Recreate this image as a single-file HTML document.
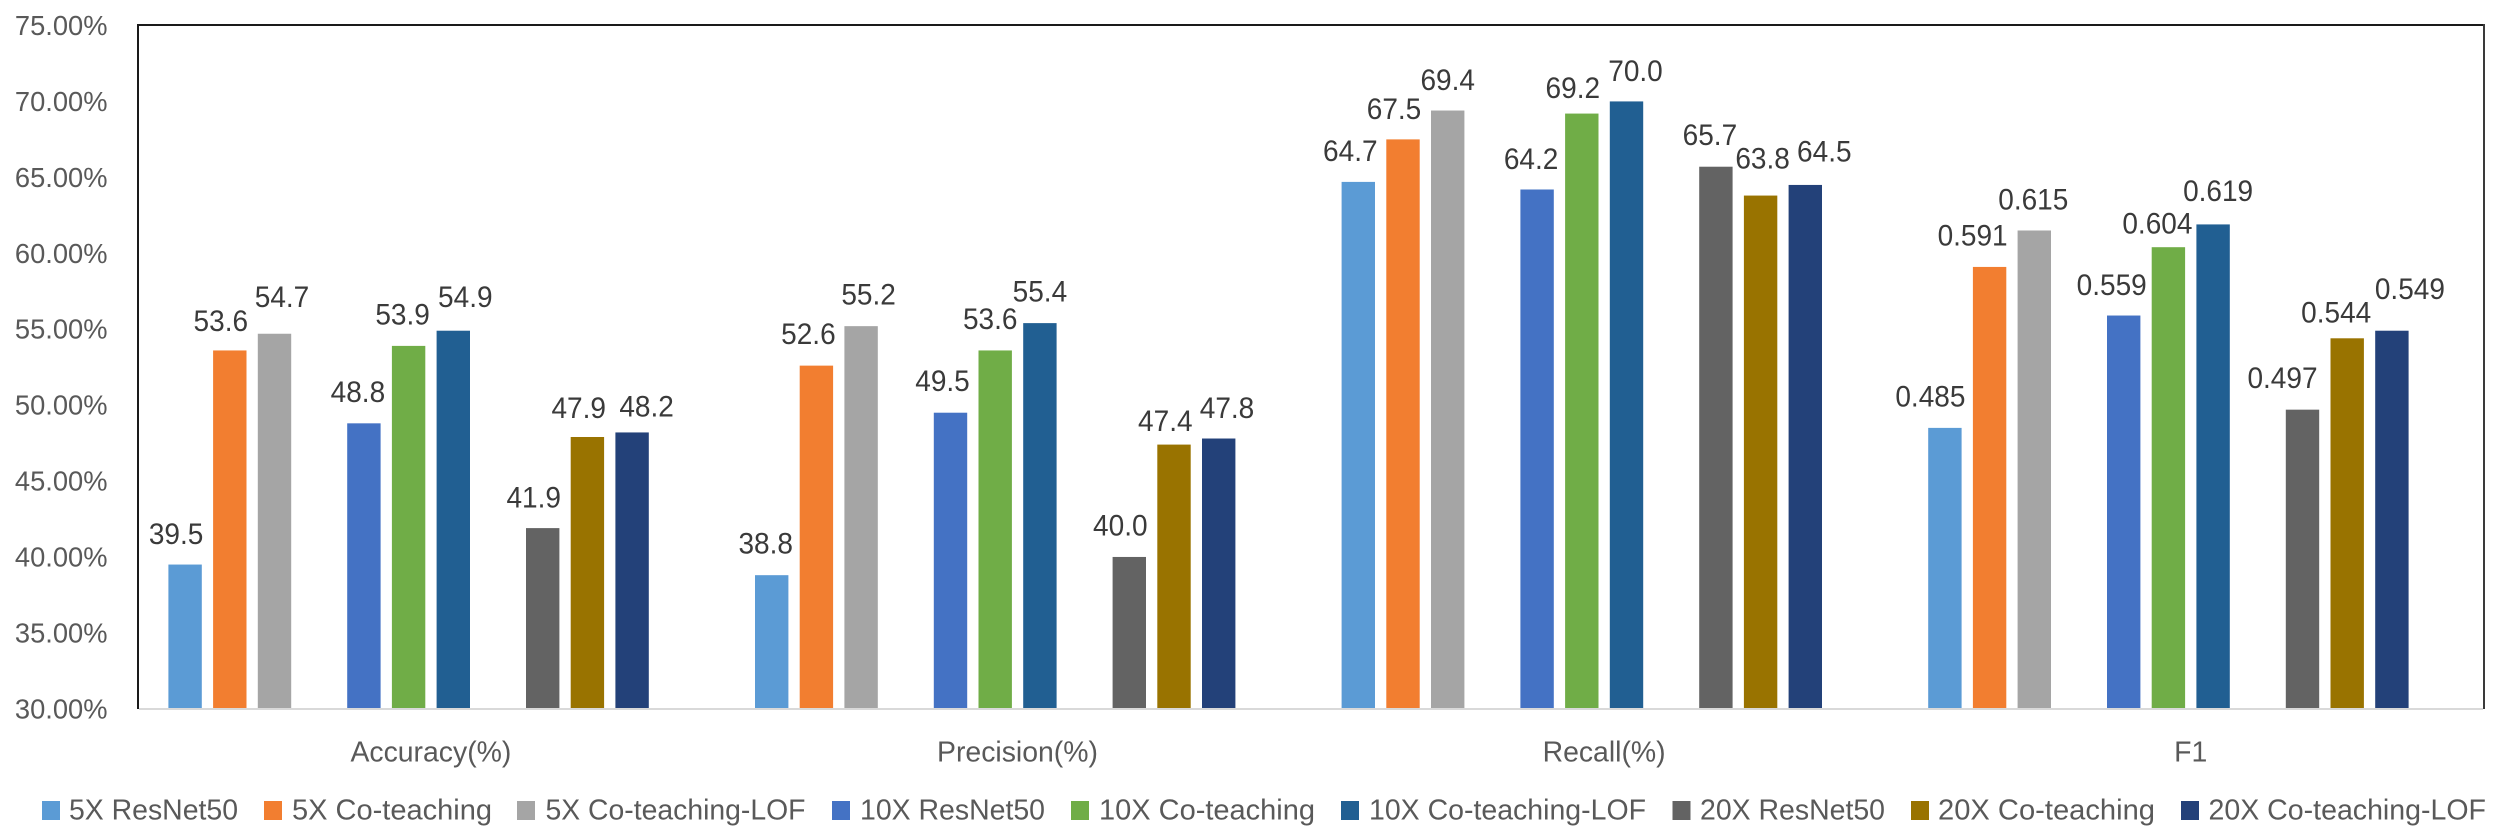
<!DOCTYPE html>
<html lang="en">
<head>
<meta charset="utf-8">
<title>Model metrics by magnification</title>
<style>
html,body{margin:0;padding:0;background:#fff;width:2500px;height:840px;overflow:hidden}
svg{display:block;font-family:"Liberation Sans",sans-serif}
.lg{font-size:28.5px;fill:#595959}
</style>
</head>
<body>
<svg id="chart" xmlns="http://www.w3.org/2000/svg" width="2500" height="840" viewBox="0 0 2500 840">
  <rect x="0" y="0" width="2500" height="840" fill="#ffffff"/>
  <g id="bars"></g>
  <g id="value-labels"></g>
  <g id="y-axis"></g>
  <g id="x-axis"></g>
  <g id="legend">
    <g><rect x="42" y="801" width="18" height="19" fill="#5b9bd5"/><text class="lg" x="69" y="819.5" textLength="169" lengthAdjust="spacingAndGlyphs">5X ResNet50</text></g>
    <g><rect x="264" y="801" width="18" height="19" fill="#f27e30"/><text class="lg" x="292" y="819.5" textLength="200" lengthAdjust="spacingAndGlyphs">5X Co-teaching</text></g>
    <g><rect x="517" y="801" width="18" height="19" fill="#a5a5a5"/><text class="lg" x="545.5" y="819.5" textLength="260" lengthAdjust="spacingAndGlyphs">5X Co-teaching-LOF</text></g>
    <g><rect x="832" y="801" width="18" height="19" fill="#4472c4"/><text class="lg" x="860" y="819.5" textLength="185" lengthAdjust="spacingAndGlyphs">10X ResNet50</text></g>
    <g><rect x="1071" y="801" width="18" height="19" fill="#70ad47"/><text class="lg" x="1099" y="819.5" textLength="216" lengthAdjust="spacingAndGlyphs">10X Co-teaching</text></g>
    <g><rect x="1341" y="801" width="18" height="19" fill="#215f92"/><text class="lg" x="1369" y="819.5" textLength="277" lengthAdjust="spacingAndGlyphs">10X Co-teaching-LOF</text></g>
    <g><rect x="1672.5" y="801" width="18" height="19" fill="#636363"/><text class="lg" x="1700" y="819.5" textLength="185" lengthAdjust="spacingAndGlyphs">20X ResNet50</text></g>
    <g><rect x="1911" y="801" width="18" height="19" fill="#997300"/><text class="lg" x="1938" y="819.5" textLength="217" lengthAdjust="spacingAndGlyphs">20X Co-teaching</text></g>
    <g><rect x="2181" y="801" width="18" height="19" fill="#234179"/><text class="lg" x="2208.5" y="819.5" textLength="277.5" lengthAdjust="spacingAndGlyphs">20X Co-teaching-LOF</text></g>
  </g>
  <line x1="137" y1="25" x2="2485" y2="25" stroke="#1a1a1a" stroke-width="2"/>
  <line x1="138" y1="24" x2="138" y2="709" stroke="#1a1a1a" stroke-width="2"/>
  <line x1="2484" y1="24" x2="2484" y2="709" stroke="#3a3a3a" stroke-width="2"/>
  <line x1="139" y1="709" x2="2483" y2="709" stroke="#d9d9d9" stroke-width="2"/>
</svg>
<script>
// Chart data
const categories = ["Accuracy(%)", "Precision(%)", "Recall(%)", "F1"];
const seriesNames = ["5X ResNet50", "5X Co-teaching", "5X Co-teaching-LOF", "10X ResNet50", "10X Co-teaching", "10X Co-teaching-LOF", "20X ResNet50", "20X Co-teaching", "20X Co-teaching-LOF"];
const values5xResNet = [39.5, 38.8, 64.7, 48.5];
const values5xCoteach = [53.6, 52.6, 67.5, 59.1];
const values5xLof = [54.7, 55.2, 69.4, 61.5];
const values10xResNet = [48.8, 49.5, 64.2, 55.9];
const values10xCoteach = [53.9, 53.6, 69.2, 60.4];
const values10xLof = [54.9, 55.4, 70.0, 61.9];
const values20xResNet = [41.9, 40.0, 65.7, 49.7];
const values20xCoteach = [47.9, 47.4, 63.8, 54.4];
const values20xLof = [48.2, 47.8, 64.5, 54.9];
const yTicks = [30, 35, 40, 45, 50, 55, 60, 65, 70, 75];

// Styling and layout (not data)
const seriesValues = [values5xResNet, values5xCoteach, values5xLof, values10xResNet, values10xCoteach, values10xLof, values20xResNet, values20xCoteach, values20xLof];
const seriesColors = ["#5b9bd5", "#f27e30", "#a5a5a5", "#4472c4", "#70ad47", "#215f92", "#636363", "#997300", "#234179"];
const seriesSlots = [0, 1, 2, 4, 5, 6, 8, 9, 10];
// Hand-placed label nudges from the default spot above each bar: [dx, dy] by category, then series.
const labelNudges = [
  [[-9,0],[-9,1],[7.5,-6],[-6,-1],[-6,-1],[12,-3],[-9,0],[-8.7,1.6],[14.5,4.6]],
  [[-6,-1],[-8,-1],[7.5,-1],[-8,-1],[-5,-1],[0,-1],[-9,-1],[-8.7,7],[8.3,0]],
  [[-8,-0.6],[-9,0],[0,0],[-6,0],[-9,5],[9,0],[-6,-1],[2,-6.5],[19,-3]],
  [[-14.5,-1],[-17,-1],[-1,-0.7],[-12,0],[-11,7],[5,-3],[-20,-1],[-11,4.6],[18,-11]]
];
const plot = { left: 137.6, right: 2484, top: 25.5, bottom: 708.8, yMin: 30, yMax: 75 };
const barWidth = 33.4, slotPitch = 44.7, groupPad = 30.8;

const NS = "http://www.w3.org/2000/svg";
function make(tag, parent, attrs, text) {
  const el = document.createElementNS(NS, tag);
  for (const k in attrs) el.setAttribute(k, attrs[k]);
  if (text !== undefined) el.textContent = text;
  parent.appendChild(el);
  return el;
}
function yScale(v) {
  return plot.bottom - (v - plot.yMin) / (plot.yMax - plot.yMin) * (plot.bottom - plot.top);
}
function groupWidth() {
  return (plot.right - plot.left) / categories.length;
}
function xBar(cat, series) {
  return plot.left + cat * groupWidth() + groupPad + seriesSlots[series] * slotPitch;
}
function formatValue(cat, v) {
  return categories[cat] === "F1" ? (v / 100).toFixed(3) : v.toFixed(1);
}
function slug(s) {
  return s.toLowerCase().replace(/[^a-z0-9]+/g, "-").replace(/^-|-$/g, "");
}

const barsG = document.getElementById("bars");
const labelsG = document.getElementById("value-labels");
const yG = document.getElementById("y-axis");
const xG = document.getElementById("x-axis");

seriesNames.forEach(function (name, s) {
  categories.forEach(function (cat, c) {
    const v = seriesValues[s][c];
    const top = yScale(v);
    const bar = make("rect", barsG, { x: xBar(c, s), y: top, width: barWidth, height: plot.bottom - top, fill: seriesColors[s] });
    
    
    const nudge = labelNudges[c][s];
    const lab = make("text", labelsG, {
      x: xBar(c, s) + barWidth / 2 + nudge[0],
      y: top - 20.5 + nudge[1],
      "text-anchor": "middle",
      "font-size": 30,
      fill: "#3a3a3a"
    }, formatValue(c, v));
    lab.setAttribute('textLength', (lab.getComputedTextLength() * 28 / 30).toFixed(2));
    lab.setAttribute('lengthAdjust', 'spacingAndGlyphs');
    
    
  });
});

yTicks.forEach(function (t) {
  const tick = make("text", yG, { x: 107.5, y: yScale(t) + 9.5, "text-anchor": "end", "font-size": 27.3, fill: "#595959" }, t.toFixed(2) + "%");
  
  
});

categories.forEach(function (cat, c) {
  const lab = make("text", xG, { x: plot.left + (c + 0.5) * groupWidth(), y: 761.5, "text-anchor": "middle", "font-size": 28.4, fill: "#595959" }, cat);
  
  
});
</script>
</body>
</html>
